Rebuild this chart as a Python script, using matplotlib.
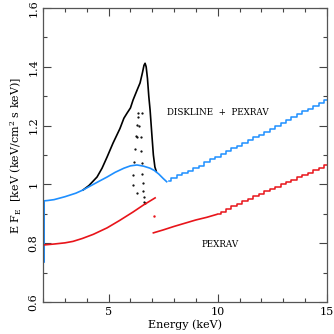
import numpy as np
import matplotlib
matplotlib.use('Agg')
import matplotlib.pyplot as plt
from matplotlib.ticker import MultipleLocator, FuncFormatter

# DISKLINE + PEXRAV (blue), smooth part
blue_e = [2.05, 2.05, 2.2, 2.5, 3.0, 3.5, 3.83, 4.2, 4.6, 4.93, 5.3, 5.7, 6.0, 6.3, 6.6, 6.9, 7.1, 7.3, 7.5, 7.66]
blue_f = [0.736, 0.944, 0.945, 0.948, 0.958, 0.970, 0.981, 0.996, 1.012, 1.025, 1.041, 1.055, 1.063, 1.066, 1.062, 1.055, 1.047, 1.035, 1.020, 1.009]
# blue, binned part (stairs)
blue_step_e = [7.75, 8.0, 8.25, 8.5, 8.75, 9.0, 9.25, 9.5, 9.75, 10.0, 10.25, 10.5, 10.75, 11.0, 11.25,
               11.5, 11.75, 12.0, 12.25, 12.5, 12.75, 13.0, 13.25, 13.5, 13.75, 14.0, 14.25, 14.5, 14.75, 15.0]
blue_step_f = [1.012, 1.022, 1.032, 1.040, 1.047, 1.055, 1.064, 1.075, 1.085, 1.094, 1.104, 1.113, 1.123, 1.132, 1.141,
               1.150, 1.160, 1.169, 1.178, 1.188, 1.198, 1.208, 1.218, 1.228, 1.238, 1.248, 1.258, 1.267, 1.277, 1.287]

# line profile (black)
black_e = [3.83, 4.1, 4.47, 4.7, 4.93, 5.2, 5.52, 5.7, 5.85, 6.0, 6.12, 6.3, 6.44, 6.55, 6.62, 6.67,
           6.72, 6.78, 6.84, 6.9, 6.98, 7.05, 7.12, 7.18]
black_f = [0.981, 0.996, 1.025, 1.055, 1.093, 1.14, 1.19, 1.225, 1.243, 1.26, 1.287, 1.32, 1.345, 1.38, 1.405, 1.412,
           1.40, 1.36, 1.30, 1.253, 1.17, 1.10, 1.059, 1.045]

# dotted columns
dot_e = [6.36, 6.29, 6.26, 6.21, 6.16, 6.13, 6.10, 6.36, 6.29, 6.29,
         6.41, 6.47, 6.49, 6.52, 6.53, 6.56, 6.59, 6.62, 6.64, 6.67, 6.53]
dot_f = [1.244, 1.202, 1.165, 1.119, 1.077, 1.032, 0.998, 1.230, 1.160, 0.970,
         1.199, 1.160, 1.115, 1.074, 1.035, 1.004, 0.979, 0.958, 0.941, 0.937, 1.244]

# PEXRAV (red)
red1_e = [2.05, 2.5, 3.0, 3.37, 3.8, 4.3, 4.93, 5.5, 6.12, 6.6, 7.13]
red1_f = [0.794, 0.797, 0.801, 0.806, 0.816, 0.830, 0.852, 0.877, 0.906, 0.930, 0.954]
red_dot_e = [7.09]
red_dot_f = [0.893]
red2_e = [7.05, 7.5, 8.0, 8.5, 9.0, 9.5, 9.96]
red2_f = [0.835, 0.845, 0.857, 0.868, 0.879, 0.888, 0.898]
red_step_e = [10.0, 10.25, 10.5, 10.75, 11.0, 11.25, 11.5, 11.75, 12.0, 12.25, 12.5, 12.75, 13.0,
              13.25, 13.5, 13.75, 14.0, 14.25, 14.5, 14.75, 15.0]
red_step_f = [0.898, 0.907, 0.916, 0.925, 0.934, 0.943, 0.951, 0.960, 0.968, 0.976, 0.983, 0.992, 1.000,
              1.008, 1.016, 1.024, 1.032, 1.040, 1.049, 1.057, 1.066]

plt.rcParams['font.family'] = ['DejaVu Serif']
plt.rcParams['mathtext.fontset'] = 'dejavuserif'

fig = plt.figure(figsize=(3.34, 3.34), dpi=100)
ax = fig.add_axes([0.129, 0.096, 0.850, 0.880])

blue = '#1e8fff'
red = '#e8141a'

ax.plot(black_e, black_f, color='black', lw=1.2)
ax.plot(dot_e, dot_f, 'k.', ms=1.2)
ax.plot(blue_e, blue_f, color=blue, lw=1.2)
ax.plot(blue_step_e, blue_step_f, color=blue, lw=1.1, drawstyle='steps-mid')
ax.plot(red1_e, red1_f, color=red, lw=1.2)
ax.plot(red_dot_e, red_dot_f, '.', color=red, ms=1.5)
ax.plot(red2_e, red2_f, color=red, lw=1.2)
ax.plot(red_step_e, red_step_f, color=red, lw=1.1, drawstyle='steps-mid')

ax.text(10.0, 1.246, 'DISKLINE  +  PEXRAV', fontsize=6.3, ha='center', va='center')
ax.text(10.1, 0.797, 'PEXRAV', fontsize=6.3, ha='center', va='center')

ax.set_xlim(2, 15)
ax.set_ylim(0.6, 1.6)
ax.xaxis.set_major_locator(MultipleLocator(5))
ax.xaxis.set_minor_locator(MultipleLocator(1))
ax.yaxis.set_major_locator(MultipleLocator(0.2))
ax.yaxis.set_minor_locator(MultipleLocator(0.1))
ax.yaxis.set_major_formatter(FuncFormatter(lambda v, p: '%g' % round(v, 2)))
ax.tick_params(which='both', direction='in', top=True, right=True, labelsize=8, width=0.8, color='#444444')
ax.tick_params(which='major', length=6)
ax.tick_params(which='minor', length=3)
for lab in ax.get_yticklabels():
    lab.set_rotation(90)
    lab.set_va('center')
for s in ax.spines.values():
    s.set_color('#555555')
    s.set_linewidth(0.9)

ax.set_xlabel('Energy (keV)', fontsize=8, labelpad=2)
ax.set_ylabel(r'E F$_{\rm E}$  [keV (keV/cm$^2$ s keV)]', fontsize=8, labelpad=3)

fig.savefig('out.png', dpi=100)
